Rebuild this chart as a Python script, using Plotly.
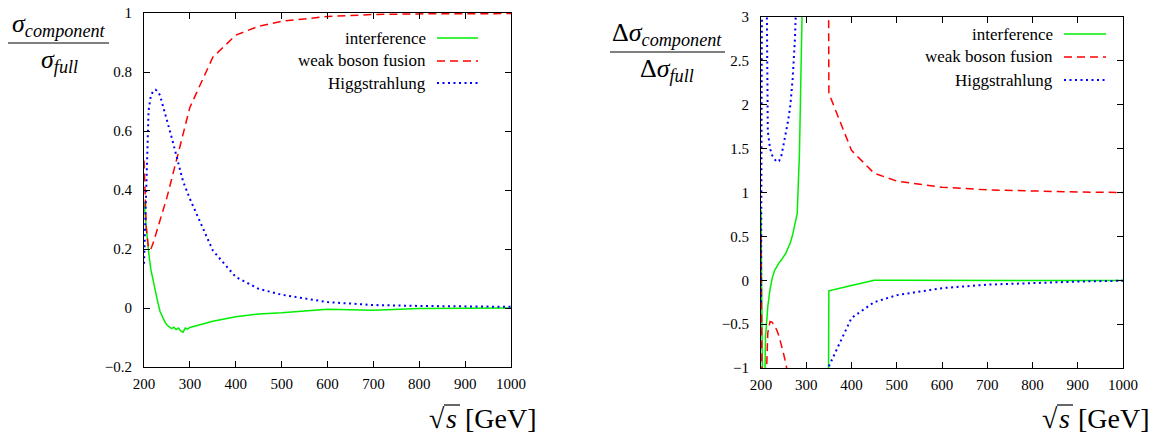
import plotly.graph_objects as go

# ---------------- data ----------------
# left panel: sigma_component / sigma_full
x_left = [200, 205, 210, 215, 220, 225, 230, 235, 240, 245, 250, 255, 260, 265, 270,
          275, 280, 285, 290, 295, 300, 350, 400, 450, 500, 600, 700, 800, 900, 1000]
left_interference = [0.36, 0.27, 0.19, 0.13, 0.09, 0.05, 0.02, -0.012, -0.03, -0.045,
                     -0.058, -0.065, -0.07, -0.065, -0.073, -0.068, -0.078, -0.082, -0.068, -0.072,
                     -0.066, -0.045, -0.03, -0.02, -0.016, -0.004, -0.008, -0.002, -0.001, 0.0]
left_wbf = [0.5, 0.27, 0.2, 0.2, 0.22, 0.245, 0.27, 0.295, 0.32, 0.345,
            0.375, 0.405, 0.435, 0.465, 0.5, 0.535, 0.565, 0.595, 0.625, 0.655,
            0.68, 0.85, 0.925, 0.955, 0.972, 0.988, 0.995, 0.997, 0.998, 0.998]
left_hs = [0.15, 0.45, 0.67, 0.72, 0.735, 0.74, 0.735, 0.72, 0.69, 0.665,
           0.64, 0.61, 0.58, 0.55, 0.52, 0.49, 0.46, 0.43, 0.41, 0.39,
           0.37, 0.195, 0.105, 0.065, 0.045, 0.02, 0.01, 0.007, 0.005, 0.004]

# right panel: Delta sigma_component / Delta sigma_full
x_right = [200, 205, 210, 215, 220, 225, 230, 235, 240, 245, 250, 255, 260, 265, 270,
           275, 280, 285, 290, 295, 300, 340, 350, 400, 450, 500, 600, 700, 800, 900, 1000]
right_interference = [0.8, -2.2, -0.65, -0.3, -0.1, 0.03, 0.11, 0.16, 0.2, 0.23,
                      0.27, 0.31, 0.37, 0.43, 0.52, 0.63, 0.76, 1.45, 2.55, 4.2,
                      6.0, -12.0, -0.12, -0.06, 0.0, 0.0, 0.0, 0.0, -0.003, -0.003, -0.003]
right_wbf = [0.5, -3.3, -1.4, -0.6, -0.47, -0.48, -0.52, -0.57, -0.64, -0.73,
             -0.84, -0.95, -1.1, -1.3, -1.7, -2.3, -3.0, -4.0, -5.0, -6.5,
             -8.0, 20.0, 2.13, 1.48, 1.22, 1.13, 1.06, 1.03, 1.015, 1.005, 1.0]
right_hs = [-0.25, 8.0, 5.0, 1.7, 1.5, 1.42, 1.38, 1.35, 1.36, 1.42,
            1.55, 1.68, 1.82, 2.0, 2.3, 2.75, 3.5, 4.5, 5.5, 7.0,
            9.0, -8.0, -0.98, -0.43, -0.25, -0.17, -0.09, -0.05, -0.03, -0.015, -0.005]

series_names = ["interference", "weak boson fusion", "Higgstrahlung"]
x_ticks = [200, 300, 400, 500, 600, 700, 800, 900, 1000]
left_yrange = [-0.2, 1.0]
right_yrange = [-1.0, 3.0]

# ---------------- styling ----------------
W, H = 1168, 439
FONT = "Liberation Serif, Times New Roman, serif"
styles = [
    dict(color="#00ee00", width=1.5, dash="solid"),
    dict(color="#ff0000", width=1.5, dash="8px,5px"),
    dict(color="#0000ff", width=2, dash="2px,3.5px"),
]


def px(x):
    return x / W


def py(y):
    return 1 - y / H


def gnuplot_clip(xs, ys, lo, hi):
    """Break the line where both neighbouring points are out of range (gnuplot default)."""
    ox, oy = [], []
    prev_out = False
    for i, (x, y) in enumerate(zip(xs, ys)):
        out = y < lo or y > hi
        if i > 0 and out and prev_out:
            ox.append(None)
            oy.append(None)
        ox.append(x)
        oy.append(y)
        prev_out = out
    return ox, oy


fig = go.Figure()

left_data = [left_interference, left_wbf, left_hs]
right_data = [right_interference, right_wbf, right_hs]

for name, ys, st in zip(series_names, left_data, styles):
    cx, cy = gnuplot_clip(x_left, ys, *left_yrange)
    fig.add_trace(go.Scatter(x=cx, y=cy, mode="lines", name=name, line=st,
                             xaxis="x", yaxis="y", showlegend=False, connectgaps=False))
for name, ys, st in zip(series_names, right_data, styles):
    cx, cy = gnuplot_clip(x_right, ys, *right_yrange)
    fig.add_trace(go.Scatter(x=cx, y=cy, mode="lines", name=name, line=st,
                             xaxis="x2", yaxis="y2", showlegend=False, connectgaps=False))

axis_common = dict(showgrid=False, zeroline=False, showline=True, linecolor="black",
                   linewidth=1, mirror="ticks", ticks="inside", ticklen=6,
                   tickcolor="black", tickwidth=1, automargin=False,
                   tickfont=dict(family=FONT, size=15, color="black"))

fig.update_layout(
    width=W, height=H,
    autosize=False,
    margin=dict(l=0, r=0, t=0, b=0, pad=0, autoexpand=False),
    paper_bgcolor="white", plot_bgcolor="white",
    showlegend=False,
    xaxis=dict(domain=[px(144), px(511)], range=[200, 1000], tickvals=x_ticks,
               anchor="y", ticklabelstandoff=3, **axis_common),
    yaxis=dict(domain=[py(367), py(13)], range=left_yrange, dtick=0.2, tick0=0,
               anchor="x", ticklabelstandoff=8, **axis_common),
    xaxis2=dict(domain=[px(761), px(1123)], range=[200, 1000], tickvals=x_ticks,
                anchor="y2", ticklabelstandoff=3, **axis_common),
    yaxis2=dict(domain=[py(368), py(17)], range=right_yrange, dtick=0.5, tick0=0,
                anchor="x2", ticklabelstandoff=8, **axis_common),
)

annotations = []
shapes = []

# legends (gnuplot style: text right aligned, sample on the right)
legend_specs = [
    (428, 437, 478, [38, 61, 83]),
    (1055, 1064, 1106, [34, 57, 80]),
]
for text_right, s0, s1, rows in legend_specs:
    for name, st, yrow in zip(series_names, styles, rows):
        annotations.append(dict(x=px(text_right), y=py(yrow), xref="paper", yref="paper",
                                text=name, showarrow=False, xanchor="right", yanchor="middle",
                                font=dict(family=FONT, size=17, color="black")))
        shapes.append(dict(type="line", xref="paper", yref="paper",
                           x0=px(s0), x1=px(s1), y0=py(yrow), y1=py(yrow),
                           line=dict(color=st["color"], width=st["width"], dash=st["dash"])))

# y-axis labels as fractions
frac_font = dict(family=FONT, size=26, color="black")
# left
annotations.append(dict(x=px(59), y=py(42), xref="paper", yref="paper", showarrow=False,
                        text="<i>σ</i><sub><i>component</i></sub>", xanchor="center",
                        yanchor="bottom", font=frac_font, borderpad=0))
annotations.append(dict(x=px(59), y=py(44), xref="paper", yref="paper", showarrow=False,
                        text="<i>σ</i><sub><i>full</i></sub>", xanchor="center",
                        yanchor="top", font=frac_font, borderpad=0))
shapes.append(dict(type="line", xref="paper", yref="paper", x0=px(8), x1=px(109),
                   y0=py(43), y1=py(43), line=dict(color="black", width=1)))
# right
annotations.append(dict(x=px(667), y=py(51), xref="paper", yref="paper", showarrow=False,
                        text="Δ<i>σ</i><sub><i>component</i></sub>", xanchor="center",
                        yanchor="bottom", font=frac_font, borderpad=0))
annotations.append(dict(x=px(667), y=py(53), xref="paper", yref="paper", showarrow=False,
                        text="Δ<i>σ</i><sub><i>full</i></sub>", xanchor="center",
                        yanchor="top", font=frac_font, borderpad=0))
shapes.append(dict(type="line", xref="paper", yref="paper", x0=px(610), x1=px(725),
                   y0=py(52), y1=py(52), line=dict(color="black", width=1)))

# x-axis titles: sqrt sign, italic s with overline, unit
title_font = dict(family=FONT, size=28, color="black")
for off in (0, 613):
    annotations.append(dict(x=px(446 + off), y=py(418), xref="paper", yref="paper",
                            showarrow=False, text="√", xanchor="right", yanchor="middle",
                            font=title_font, borderpad=0))
    annotations.append(dict(x=px(445 + off), y=py(418), xref="paper", yref="paper",
                            showarrow=False, text="<i>s</i>", xanchor="left", yanchor="middle",
                            font=title_font, borderpad=0))
    annotations.append(dict(x=px(538 + off), y=py(418), xref="paper", yref="paper",
                            showarrow=False, text="[GeV]", xanchor="right", yanchor="middle",
                            font=title_font, borderpad=0))
    shapes.append(dict(type="line", xref="paper", yref="paper", x0=px(444 + off),
                       x1=px(460 + off), y0=py(405), y1=py(405),
                       line=dict(color="black", width=1.2)))

fig.update_layout(annotations=annotations, shapes=shapes)
fig.write_html("out.html", config={"displayModeBar": False},
               post_script="document.body.style.margin='0';document.body.style.padding='0';")
